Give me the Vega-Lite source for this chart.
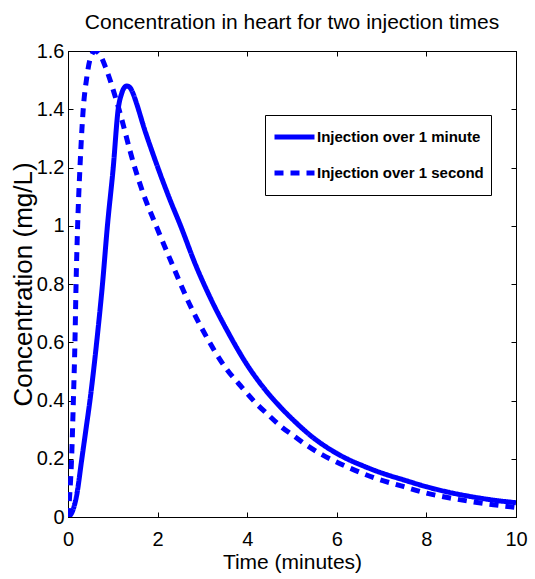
{
  "$schema": "https://vega.github.io/schema/vega-lite/v6.json",
  "width": 448,
  "height": 466,
  "autosize": {"type": "none"},
  "padding": {"left": 68, "top": 51, "right": 19, "bottom": 62},
  "background": "white",
  "title": {
    "text": "Concentration in heart for two injection times",
    "font": "Liberation Sans",
    "fontSize": 21,
    "fontWeight": "normal",
    "color": "black",
    "anchor": "middle",
    "baseline": "alphabetic",
    "offset": -9
  },
  "config": {
    "view": {"stroke": "black", "strokeWidth": 1},
    "axis": {
      "grid": false,
      "domainColor": "black",
      "domainWidth": 1,
      "tickColor": "black",
      "tickSize": -5,
      "tickWidth": 1,
      "minExtent": 0,
      "labelFont": "Liberation Sans",
      "labelFontSize": 20,
      "labelColor": "black",
      "labelFlush": false,
      "labelOverlap": false,
      "titleFont": "Liberation Sans",
      "titleFontSize": 21,
      "titleFontWeight": "normal",
      "titleColor": "black"
    }
  },
  "data": {
    "values": [
      {"t": 0, "c": 0, "series": "Injection over 1 minute"},
      {"t": 0.1, "c": 0.02, "series": "Injection over 1 minute"},
      {"t": 0.2, "c": 0.08, "series": "Injection over 1 minute"},
      {"t": 0.3, "c": 0.19, "series": "Injection over 1 minute"},
      {"t": 0.4, "c": 0.3, "series": "Injection over 1 minute"},
      {"t": 0.49, "c": 0.4, "series": "Injection over 1 minute"},
      {"t": 0.64, "c": 0.6, "series": "Injection over 1 minute"},
      {"t": 0.77, "c": 0.8, "series": "Injection over 1 minute"},
      {"t": 0.88, "c": 1.0, "series": "Injection over 1 minute"},
      {"t": 1.01, "c": 1.2, "series": "Injection over 1 minute"},
      {"t": 1.12, "c": 1.4, "series": "Injection over 1 minute"},
      {"t": 1.2, "c": 1.455, "series": "Injection over 1 minute"},
      {"t": 1.26, "c": 1.475, "series": "Injection over 1 minute"},
      {"t": 1.31, "c": 1.48, "series": "Injection over 1 minute"},
      {"t": 1.38, "c": 1.475, "series": "Injection over 1 minute"},
      {"t": 1.45, "c": 1.455, "series": "Injection over 1 minute"},
      {"t": 1.53, "c": 1.42, "series": "Injection over 1 minute"},
      {"t": 1.7, "c": 1.335, "series": "Injection over 1 minute"},
      {"t": 1.9, "c": 1.245, "series": "Injection over 1 minute"},
      {"t": 2.1, "c": 1.16, "series": "Injection over 1 minute"},
      {"t": 2.3, "c": 1.08, "series": "Injection over 1 minute"},
      {"t": 2.5, "c": 1.005, "series": "Injection over 1 minute"},
      {"t": 2.85, "c": 0.865, "series": "Injection over 1 minute"},
      {"t": 3.2, "c": 0.745, "series": "Injection over 1 minute"},
      {"t": 3.57, "c": 0.635, "series": "Injection over 1 minute"},
      {"t": 4.0, "c": 0.522, "series": "Injection over 1 minute"},
      {"t": 4.35, "c": 0.447, "series": "Injection over 1 minute"},
      {"t": 4.72, "c": 0.381, "series": "Injection over 1 minute"},
      {"t": 5.09, "c": 0.324, "series": "Injection over 1 minute"},
      {"t": 5.46, "c": 0.274, "series": "Injection over 1 minute"},
      {"t": 5.84, "c": 0.233, "series": "Injection over 1 minute"},
      {"t": 6.21, "c": 0.201, "series": "Injection over 1 minute"},
      {"t": 6.58, "c": 0.176, "series": "Injection over 1 minute"},
      {"t": 6.95, "c": 0.154, "series": "Injection over 1 minute"},
      {"t": 7.5, "c": 0.127, "series": "Injection over 1 minute"},
      {"t": 8.0, "c": 0.104, "series": "Injection over 1 minute"},
      {"t": 8.5, "c": 0.085, "series": "Injection over 1 minute"},
      {"t": 9.0, "c": 0.07, "series": "Injection over 1 minute"},
      {"t": 9.5, "c": 0.058, "series": "Injection over 1 minute"},
      {"t": 10.0, "c": 0.049, "series": "Injection over 1 minute"},
      {"t": 0, "c": 0, "series": "Injection over 1 second"},
      {"t": 0.04, "c": 0.08, "series": "Injection over 1 second"},
      {"t": 0.08, "c": 0.2, "series": "Injection over 1 second"},
      {"t": 0.12, "c": 0.4, "series": "Injection over 1 second"},
      {"t": 0.155, "c": 0.6, "series": "Injection over 1 second"},
      {"t": 0.18, "c": 0.8, "series": "Injection over 1 second"},
      {"t": 0.215, "c": 1.0, "series": "Injection over 1 second"},
      {"t": 0.267, "c": 1.2, "series": "Injection over 1 second"},
      {"t": 0.34, "c": 1.4, "series": "Injection over 1 second"},
      {"t": 0.42, "c": 1.51, "series": "Injection over 1 second"},
      {"t": 0.49, "c": 1.57, "series": "Injection over 1 second"},
      {"t": 0.6, "c": 1.6, "series": "Injection over 1 second"},
      {"t": 0.7, "c": 1.59, "series": "Injection over 1 second"},
      {"t": 0.86, "c": 1.535, "series": "Injection over 1 second"},
      {"t": 1.1, "c": 1.42, "series": "Injection over 1 second"},
      {"t": 1.49, "c": 1.2, "series": "Injection over 1 second"},
      {"t": 1.68, "c": 1.11, "series": "Injection over 1 second"},
      {"t": 1.94, "c": 1.01, "series": "Injection over 1 second"},
      {"t": 2.35, "c": 0.859, "series": "Injection over 1 second"},
      {"t": 2.7, "c": 0.735, "series": "Injection over 1 second"},
      {"t": 3.05, "c": 0.63, "series": "Injection over 1 second"},
      {"t": 3.5, "c": 0.516, "series": "Injection over 1 second"},
      {"t": 3.9, "c": 0.442, "series": "Injection over 1 second"},
      {"t": 4.2, "c": 0.39, "series": "Injection over 1 second"},
      {"t": 4.46, "c": 0.352, "series": "Injection over 1 second"},
      {"t": 4.76, "c": 0.31, "series": "Injection over 1 second"},
      {"t": 5.06, "c": 0.276, "series": "Injection over 1 second"},
      {"t": 5.35, "c": 0.244, "series": "Injection over 1 second"},
      {"t": 5.67, "c": 0.214, "series": "Injection over 1 second"},
      {"t": 5.98, "c": 0.19, "series": "Injection over 1 second"},
      {"t": 6.32, "c": 0.166, "series": "Injection over 1 second"},
      {"t": 6.65, "c": 0.145, "series": "Injection over 1 second"},
      {"t": 6.88, "c": 0.132, "series": "Injection over 1 second"},
      {"t": 7.5, "c": 0.104, "series": "Injection over 1 second"},
      {"t": 8.0, "c": 0.082, "series": "Injection over 1 second"},
      {"t": 8.5, "c": 0.066, "series": "Injection over 1 second"},
      {"t": 9.0, "c": 0.053, "series": "Injection over 1 second"},
      {"t": 9.5, "c": 0.042, "series": "Injection over 1 second"},
      {"t": 10.0, "c": 0.033, "series": "Injection over 1 second"}
    ]
  },
  "layer": [
    {
      "mark": {"type": "line", "strokeWidth": 5, "color": "#0000ff", "interpolate": "monotone", "clip": true},
      "encoding": {
        "x": {
          "field": "t",
          "type": "quantitative",
          "scale": {"domain": [0, 10], "nice": false, "zero": false},
          "axis": {"values": [0, 2, 4, 6, 8, 10], "format": "d", "title": "Time (minutes)", "labelPadding": 17, "titlePadding": 2}
        },
        "y": {
          "field": "c",
          "type": "quantitative",
          "scale": {"domain": [0, 1.6], "nice": false},
          "axis": {"values": [0, 0.2, 0.4, 0.6, 0.8, 1, 1.2, 1.4, 1.6], "format": "~g", "title": "Concentration (mg/L)", "titleFontSize": 26, "labelPadding": 9, "titlePadding": 0}
        },
        "strokeDash": {
          "field": "series",
          "type": "nominal",
          "scale": {"domain": ["Injection over 1 minute", "Injection over 1 second"], "range": [[1, 0], [9, 7]]},
          "legend": {
            "orient": "none",
            "legendX": 197,
            "legendY": 64,
            "title": null,
            "symbolType": "stroke",
            "symbolSize": 1600,
            "symbolStrokeWidth": 5,
            "symbolStrokeColor": "#0000ff",
            "labelFont": "Liberation Sans",
            "labelFontSize": 15,
            "labelFontWeight": "bold",
            "labelColor": "black",
            "labelOffset": 0,
            "labelLimit": 300,
            "strokeColor": "black",
            "fillColor": "white",
            "padding": 7,
            "rowPadding": 6,
            "clipHeight": 30
          }
        }
      }
    },
    {
      "mark": {"type": "line", "opacity": 0},
      "encoding": {
        "x": {
          "field": "t",
          "type": "quantitative",
          "scale": {"domain": [0, 10], "nice": false, "zero": false},
          "axis": {"orient": "top", "values": [0, 2, 4, 6, 8, 10], "labels": false, "title": null}
        },
        "y": {
          "field": "c",
          "type": "quantitative",
          "scale": {"domain": [0, 1.6], "nice": false},
          "axis": {"orient": "right", "values": [0, 0.2, 0.4, 0.6, 0.8, 1, 1.2, 1.4, 1.6], "labels": false, "title": null}
        },
        "detail": {"field": "series", "type": "nominal"}
      }
    }
  ],
  "resolve": {"axis": {"x": "independent", "y": "independent"}}
}
